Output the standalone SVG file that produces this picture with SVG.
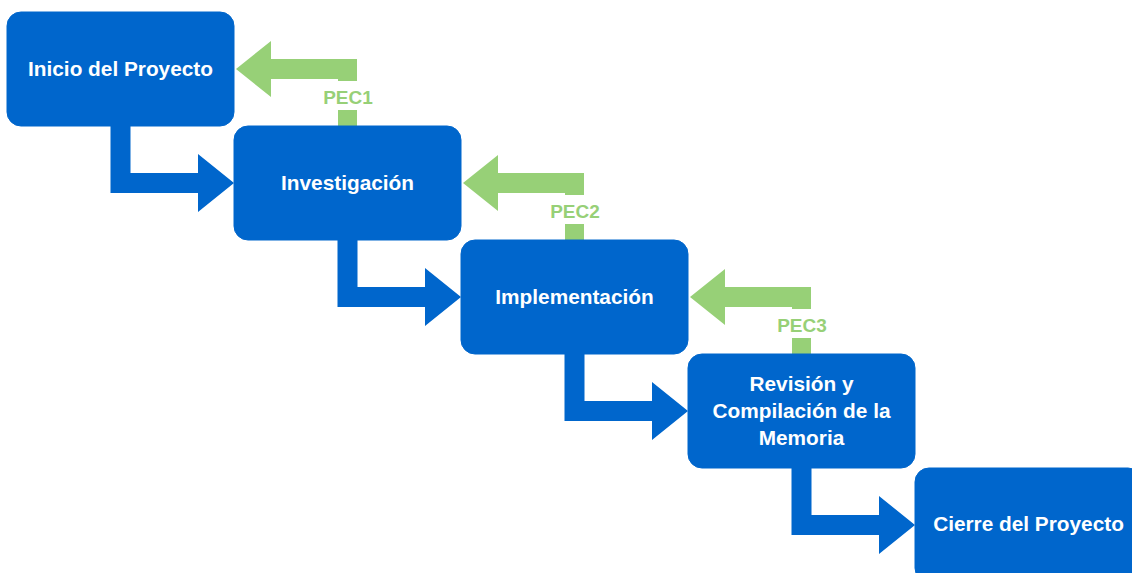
<svg xmlns="http://www.w3.org/2000/svg" width="1132" height="573" viewBox="0 0 1132 573">
<style>
.box{fill:#0066CC;stroke:#0066CC;stroke-width:1}
.t{font-family:"Liberation Sans",Arial,sans-serif;font-weight:bold;font-size:20.8px;fill:#FFFFFF;text-anchor:middle;dominant-baseline:central}
.blue{fill:#0066CC}
.green{fill:#97D077}
.pec{font-family:"Liberation Sans",Arial,sans-serif;font-weight:bold;font-size:19px;fill:#97D077;text-anchor:middle;dominant-baseline:central}
</style>
<rect width="1132" height="573" fill="#FFFFFF"/>
<g id="connectors">
  <path class="blue" d="M110.5,126 L110.5,193 L198,193 L198,212 L234,183 L198,154 L198,173 L130.5,173 L130.5,126 Z"/>
  <path class="blue" d="M337.5,240 L337.5,307 L425,307 L425,326 L461,297 L425,268 L425,287 L357.5,287 L357.5,240 Z"/>
  <path class="blue" d="M564.5,354 L564.5,421 L652,421 L652,440 L688,411 L652,382 L652,401 L584.5,401 L584.5,354 Z"/>
  <path class="blue" d="M791.5,468 L791.5,535 L879,535 L879,554 L915,525 L879,496 L879,515 L811.5,515 L811.5,468 Z"/>
  <path class="green" d="M338,126 L338,79 L271,79 L271,97 L236,69 L271,41 L271,59 L357,59 L357,126 Z"/>
  <path class="green" d="M565,240 L565,193 L498,193 L498,211 L463,183 L498,155 L498,173 L584,173 L584,240 Z"/>
  <path class="green" d="M792,354 L792,307 L725,307 L725,325 L690,297 L725,269 L725,287 L811,287 L811,354 Z"/>
  <rect x="318" y="81" width="60" height="29" fill="#FFFFFF"/>
  <rect x="545" y="195" width="60" height="29" fill="#FFFFFF"/>
  <rect x="772" y="309" width="60" height="29" fill="#FFFFFF"/>
  <text class="pec" x="348" y="97">PEC1</text>
  <text class="pec" x="575" y="211">PEC2</text>
  <text class="pec" x="802" y="325">PEC3</text>
</g>
<g id="inicio">
  <rect class="box" x="7" y="12" width="227" height="114" rx="14"/>
  <text class="t" x="120.5" y="68">Inicio del Proyecto</text>
</g>
<g id="investigacion">
  <rect class="box" x="234" y="126" width="227" height="114" rx="14"/>
  <text class="t" x="347.5" y="182">Investigación</text>
</g>
<g id="implementacion">
  <rect class="box" x="461" y="240" width="227" height="114" rx="14"/>
  <text class="t" x="574.5" y="296">Implementación</text>
</g>
<g id="revision">
  <rect class="box" x="688" y="354" width="227" height="114" rx="14"/>
  <text class="t" x="801.5" y="383">Revisión y</text>
  <text class="t" x="801.5" y="410">Compilación de la</text>
  <text class="t" x="801.5" y="437">Memoria</text>
</g>
<g id="cierre">
  <rect class="box" x="915" y="468" width="227" height="114" rx="14"/>
  <text class="t" x="1028.5" y="523">Cierre del Proyecto</text>
</g>
</svg>
